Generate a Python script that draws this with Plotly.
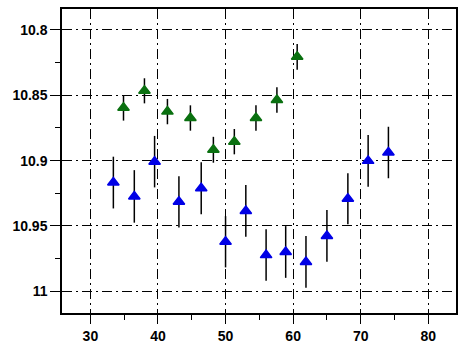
import plotly.graph_objects as go

green_x = [34.9, 38.0, 41.4, 44.8, 48.2, 51.3, 54.5, 57.6, 60.6]
green_y = [10.8596, 10.8466, 10.8625, 10.8674, 10.8917, 10.8855, 10.8674, 10.8536, 10.8206]
green_err = [0.0098, 0.0096, 0.0097, 0.0097, 0.0099, 0.0097, 0.0097, 0.0097, 0.0098]

blue_x = [33.4, 36.5, 39.5, 43.1, 46.4, 50.0, 53.0, 56.0, 58.9, 61.9, 65.0, 68.1, 71.1, 74.1]
blue_y = [10.9168, 10.9274, 10.9008, 10.9315, 10.9212, 10.9621, 10.9385, 10.9723, 10.9699,
          10.9775, 10.9576, 10.9292, 10.9002, 10.8938]
blue_err = [0.0198, 0.0201, 0.0197, 0.0196, 0.0199, 0.0196, 0.0198, 0.0197, 0.0198,
            0.0198, 0.0198, 0.0195, 0.0198, 0.0197]

x_ticks = [30, 40, 50, 60, 70, 80]
y_ticks = [10.8, 10.85, 10.9, 10.95, 11.0]

fig = go.Figure()
fig.add_trace(go.Scatter(
    x=blue_x, y=blue_y, mode="markers",
    marker=dict(symbol="triangle-up", size=10, color="#0000e6", line=dict(width=1.5, color="#0000e6")),
    error_y=dict(type="data", array=blue_err, visible=True, color="black", thickness=1.5, width=0),
    showlegend=False))
fig.add_trace(go.Scatter(
    x=green_x, y=green_y, mode="markers",
    marker=dict(symbol="triangle-up", size=10, color="#0a7010", line=dict(width=1.5, color="#0a7010")),
    error_y=dict(type="data", array=green_err, visible=True, color="black", thickness=1.5, width=0),
    showlegend=False))

tickfont = dict(family="Liberation Sans, Arial, sans-serif", size=14, color="black", weight=700)
grid = dict(showgrid=True, gridcolor="black", gridwidth=1, griddash="10px,4px,2px,4px")

fig.update_xaxes(range=[25.8, 84.1], tickvals=x_ticks, ticks="outside", ticklen=9, tickwidth=1.2,
                 tickcolor="black", showline=True, linecolor="black", linewidth=1.5, mirror=True,
                 zeroline=False, tickfont=tickfont, automargin=False,
                 minor=dict(dtick=5, tick0=0, ticks="outside", ticklen=5, tickcolor="black", tickwidth=1.2, showgrid=False),
                 **grid)
fig.update_yaxes(range=[11.0166, 10.784], tickvals=y_ticks, ticks="outside", ticklen=10, tickwidth=1.2,
                 tickcolor="black", showline=True, linecolor="black", linewidth=1.5, mirror=True,
                 zeroline=False, tickfont=tickfont, automargin=False,
                 minor=dict(dtick=0.025, tick0=10.8, ticks="outside", ticklen=5, tickcolor="black", tickwidth=1.2, showgrid=False),
                 **grid)

fig.update_layout(width=468, height=349, margin=dict(l=62, r=12, t=9, b=36),
                  paper_bgcolor="white", plot_bgcolor="white")
fig.write_html("out.html")
